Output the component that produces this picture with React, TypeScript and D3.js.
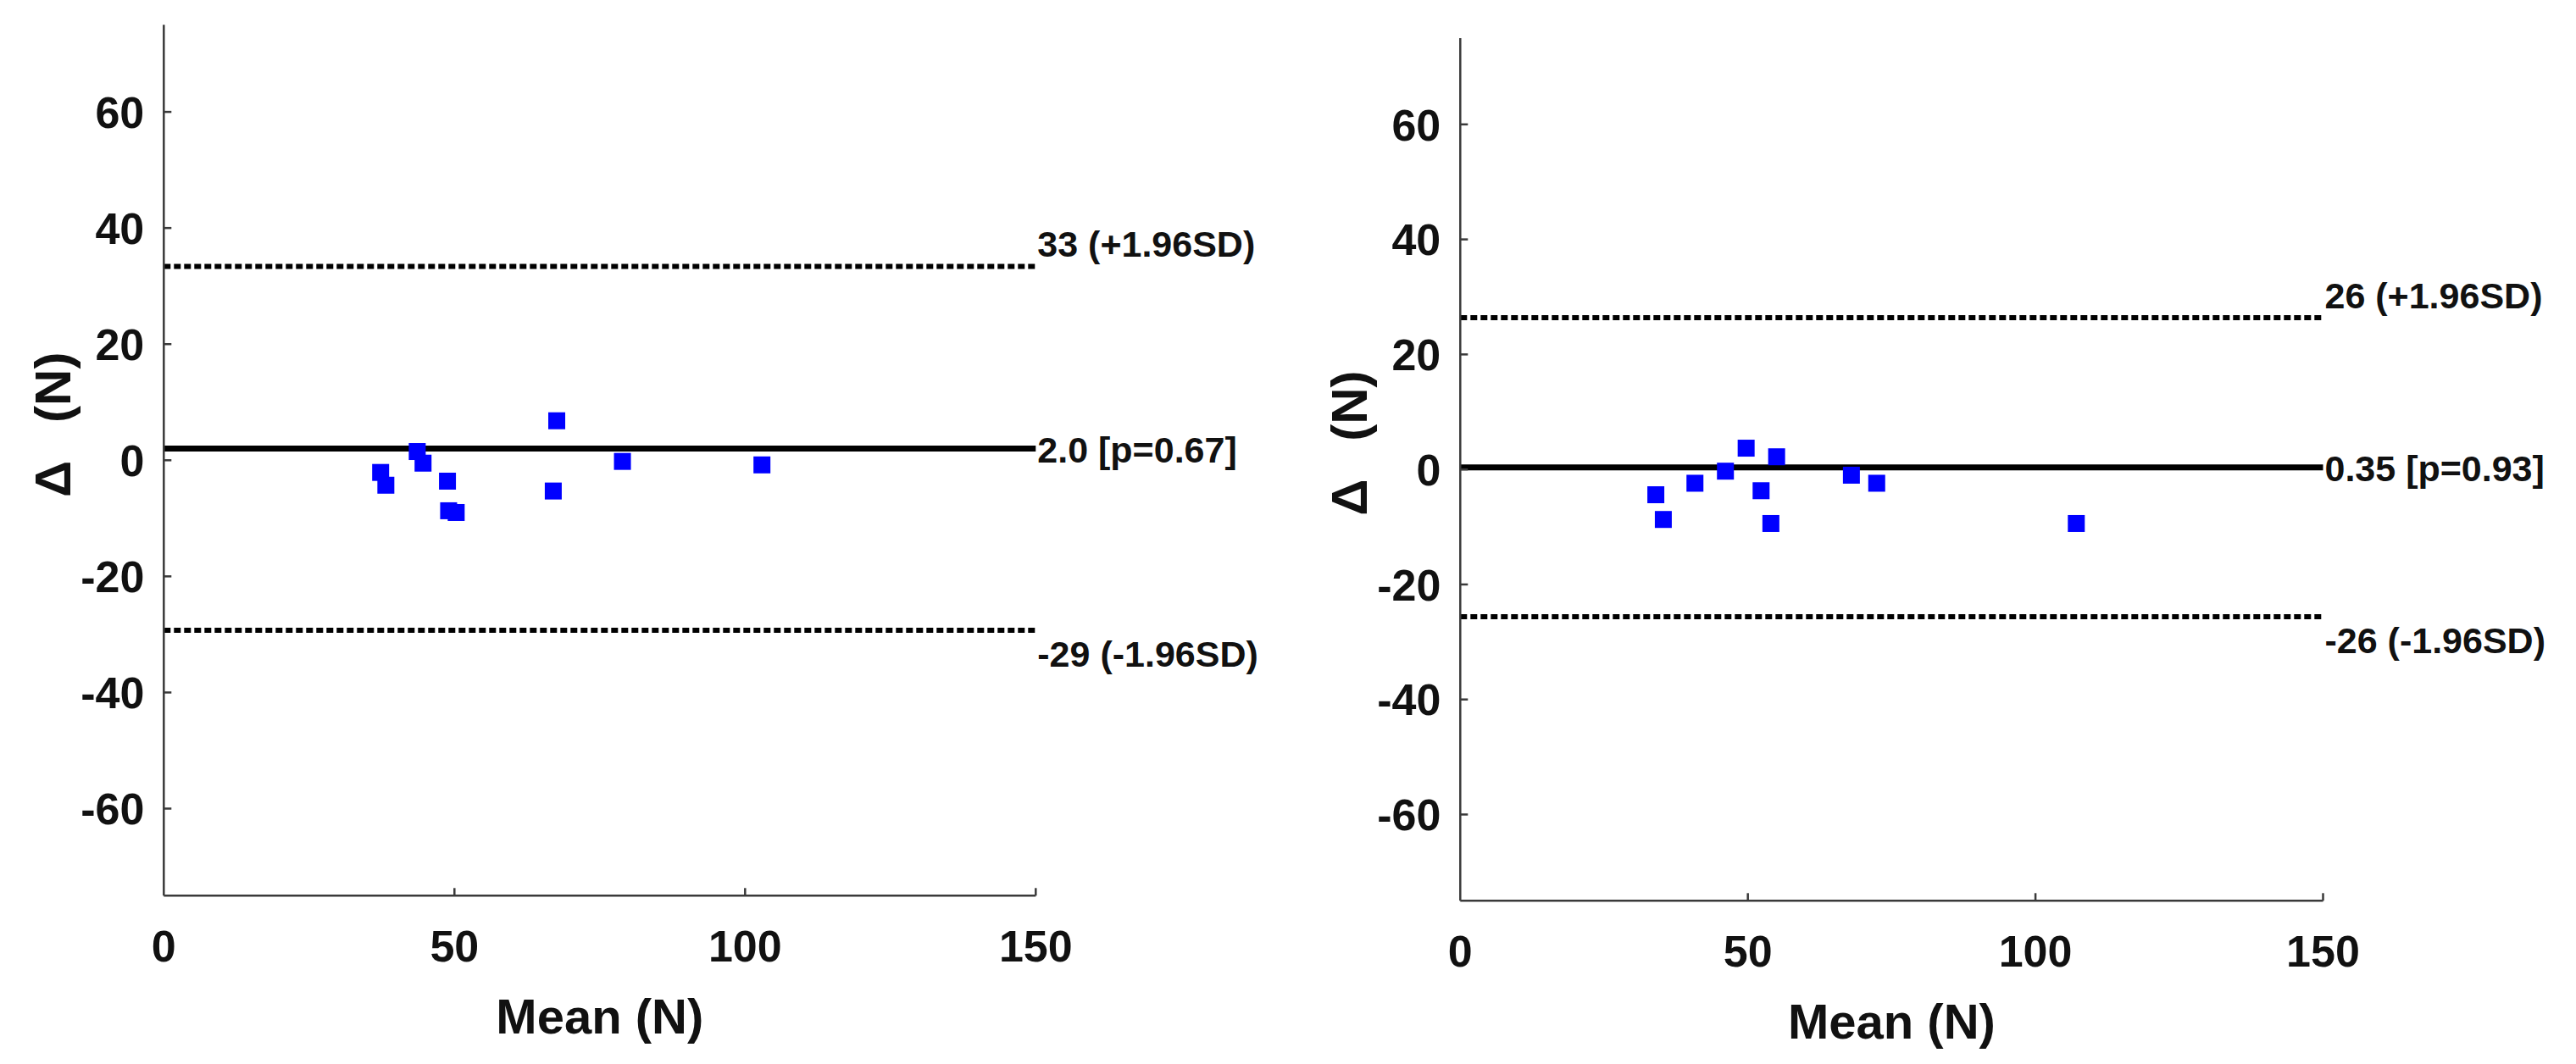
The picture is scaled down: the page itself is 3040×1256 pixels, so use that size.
import React, { useEffect } from "react";
import * as d3 from "d3";

// ---- data ----
const leftMeans = [37.3, 38.2, 43.6, 44.6, 48.8, 49.0, 50.3, 67.6, 67.0, 78.9, 102.9];
const leftDiffs = [-2.1, -4.3, 1.5, -0.5, -3.6, -8.7, -9.0, 6.8, -5.3, -0.2, -0.8];
const leftLines = [33.4, 2.0, -29.3];
const leftLabels = ["33 (+1.96SD)", "2.0 [p=0.67]", "-29 (-1.96SD)"];

const rightMeans = [34.0, 35.3, 40.8, 46.1, 49.7, 52.3, 55.0, 54.0, 68.0, 72.4, 107.1];
const rightDiffs = [-4.4, -8.7, -2.4, -0.3, 3.7, -3.7, 2.2, -9.4, -1.0, -2.4, -9.4];
const rightLines = [26.4, 0.35, -25.6];
const rightLabels = ["26 (+1.96SD)", "0.35 [p=0.93]", "-26 (-1.96SD)"];

const xTicks = [0, 50, 100, 150];
const yTicks = [-60, -40, -20, 0, 20, 40, 60];
const xDomain: [number, number] = [0, 150];
const yDomain: [number, number] = [-75, 75];
const xTitle = "Mean (N)";
const yTitleSymbol = "\u0394";
const yTitleUnit = "(N)";

const FONT = "'Liberation Sans', Arial, Helvetica, sans-serif";

type PanelProps = {
  x0: number; x1: number; y0: number; y1: number; yTitleShift: number;
  means: number[]; diffs: number[]; lines: number[]; labels: string[];
};

function Panel({ x0, x1, y0, y1, yTitleShift, means, diffs, lines, labels }: PanelProps) {
  const x = d3.scaleLinear().domain(xDomain).range([x0, x1]);
  const y = d3.scaleLinear().domain(yDomain).range([y1, y0]);
  const axisColor = "#3a3a3a";
  const sq = 20;
  const labelOffsets = [-11, 16, 43];
  return (
    <g>
      {/* limit-of-agreement lines */}
      {lines.map((v, i) => (
        <line key={"l" + i} x1={x(0)} x2={x(150)} y1={y(v)} y2={y(v)}
          stroke="#000" strokeWidth={i === 1 ? 7 : 6}
          strokeDasharray={i === 1 ? undefined : "8,4"} />
      ))}
      {/* points */}
      {means.map((m, i) => (
        <rect key={"p" + i} x={x(m) - sq / 2} y={y(diffs[i]) - sq / 2} width={sq} height={sq} fill="#0000ff" />
      ))}
      {/* axes */}
      <line x1={x(0)} x2={x(0)} y1={y(75)} y2={y(-75)} stroke={axisColor} strokeWidth={2.5} />
      <line x1={x(0)} x2={x(150)} y1={y(-75)} y2={y(-75)} stroke={axisColor} strokeWidth={2.5} />
      {yTicks.map((t) => (
        <g key={"yt" + t}>
          <line x1={x(0)} x2={x(0) + 9} y1={y(t)} y2={y(t)} stroke={axisColor} strokeWidth={2.5} />
          <text x={x(0) - 23} y={y(t)} dy="0.36em" textAnchor="end" fontFamily={FONT} fontWeight="bold" fontSize={52} fill="#111">{t}</text>
        </g>
      ))}
      {xTicks.map((t) => (
        <g key={"xt" + t}>
          {t !== 0 && <line x1={x(t)} x2={x(t)} y1={y(-75)} y2={y(-75) - 9} stroke={axisColor} strokeWidth={2.5} />}
          <text x={x(t)} y={y(-75) + 78} textAnchor="middle" fontFamily={FONT} fontWeight="bold" fontSize={52} fill="#111">{t}</text>
        </g>
      ))}
      {/* line labels */}
      {lines.map((v, i) => (
        <text key={"lb" + i} x={x(150) + 2} y={y(v) + labelOffsets[i]} fontFamily={FONT} fontWeight="bold" fontSize={43} fill="#111">{labels[i]}</text>
      ))}
      {/* axis titles */}
      <text x={(x0 + x1) / 2} y={y(-75) + 163} textAnchor="middle" fontFamily={FONT} fontWeight="bold" fontSize={58} fill="#111">{xTitle}</text>
      <text transform={`translate(${x0 - 110},${(y0 + y1) / 2 + yTitleShift}) rotate(-90)`} textAnchor="middle" fontFamily={FONT} fontWeight="bold" fontSize={60} fill="#111">
        <tspan>{yTitleSymbol}</tspan>
        <tspan dx={45}>{yTitleUnit}</tspan>
      </text>
    </g>
  );
}

export default function App() {
  useEffect(() => {
    document.body.style.margin = "0";
  }, []);
  return (
    <svg width={3040} height={1256} style={{ display: "block", background: "#fff", position: "absolute", left: 0, top: 0 }}>
      <rect x={0} y={0} width={3040} height={1256} fill="#fff" />
      <Panel x0={193.3} x1={1222.3} y0={29.3} y1={1057.3} yTitleShift={-42}
        means={leftMeans} diffs={leftDiffs} lines={leftLines} labels={leftLabels} />
      <Panel x0={1723.3} x1={2741.5} y0={45} y1={1063.3} yTitleShift={-31}
        means={rightMeans} diffs={rightDiffs} lines={rightLines} labels={rightLabels} />
    </svg>
  );
}
